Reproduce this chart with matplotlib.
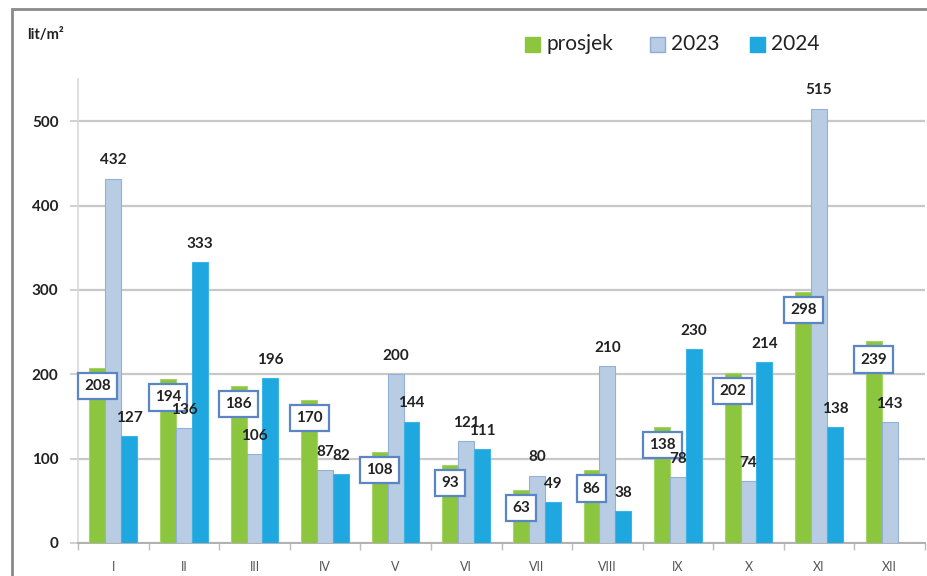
import matplotlib
matplotlib.use("Agg")
import matplotlib.pyplot as plt
from matplotlib.patches import Rectangle
import numpy as np

months = ["I", "II", "III", "IV", "V", "VI", "VII", "VIII", "IX", "X", "XI", "XII"]
prosjek = [208, 194, 186, 170, 108, 93, 63, 86, 138, 202, 298, 239]
y2023 = [432, 136, 106, 87, 200, 121, 80, 210, 78, 74, 515, 143]
y2024 = [127, 333, 196, 82, 144, 111, 49, 38, 230, 214, 138, None]
series_names = ["prosjek", "2023", "2024"]
yticks = [0, 100, 200, 300, 400, 500]
unit_label = "lit/m²"

c_green = "#8cc63f"
c_light = "#b8cce4"
c_blue = "#1fa7df"

plt.rcParams['font.family'] = ['Lato', 'DejaVu Sans']

W, H = 927, 576
fig = plt.figure(figsize=(W / 100, H / 100), dpi=100)

def fx(px):
    return px / W

def fy(py):
    return 1 - py / H

ax_l, ax_r, ax_t, ax_b = 78, 925, 79, 543
ax = fig.add_axes([fx(ax_l), fy(ax_b), fx(ax_r - ax_l), (ax_b - ax_t) / H])

n = len(months)
x = np.arange(n)
bw = 0.225

ax.bar(x - bw, prosjek, width=bw, color=c_green, edgecolor="#a5d56a", linewidth=0.8, zorder=3)
ax.bar(x, y2023, width=bw, color=c_light, edgecolor="#92b0d8", linewidth=0.8, zorder=3)
x24 = [xi + bw for xi, v in zip(x, y2024) if v is not None]
v24 = [v for v in y2024 if v is not None]
ax.bar(x24, v24, width=bw, color=c_blue, edgecolor="#3cb4e6", linewidth=0.8, zorder=3)

lab_kw = dict(ha="center", va="center", fontsize=11, fontweight="bold", color="#222222", zorder=7)
for xi, v in zip(x, y2023):
    ax.annotate(str(v), (xi, v), xytext=(0, 13), textcoords="offset points", **lab_kw)
for xi, v in zip(x24, v24):
    ax.annotate(str(v), (xi, v), xytext=(0, 13), textcoords="offset points", **lab_kw)
for xi, v in zip(x, prosjek):
    ax.text(xi - bw, v - 21.5, str(v), ha="center", va="center", fontsize=11,
            fontweight="bold", color="#222222", zorder=6,
            bbox=dict(boxstyle="square,pad=0.4", fc="white", ec="#5a86c5", lw=1.6))

ax.set_xlim(-0.5, n - 0.5)
ax.set_ylim(0, 550)
ax.set_yticks(yticks)
ax.set_yticklabels([str(t) for t in yticks], fontsize=11, fontweight="bold", color="#222222")
ax.yaxis.grid(True, color="#c8c8c8", linewidth=1.6, zorder=0)
ax.set_axisbelow(True)
ax.tick_params(axis="y", length=6, width=1.2, color="#c8c8c8", pad=8)

ax.set_xticks(x)
ax.set_xticklabels(months, fontsize=9, color="#555555")
ax.set_xticks(np.arange(n + 1) - 0.5, minor=True)
ax.tick_params(axis="x", which="major", length=0, pad=13)
ax.tick_params(axis="x", which="minor", length=5, width=1.0, color="#bbbbbb", direction="out")

for s in ["top", "right"]:
    ax.spines[s].set_visible(False)
ax.spines["left"].set_color("#d9d9d9")
ax.spines["left"].set_linewidth(1.2)
ax.spines["bottom"].set_color("#b0b0b0")
ax.spines["bottom"].set_linewidth(1.4)

# unit label
fig.text(fx(27), fy(35), unit_label, fontsize=10.5, fontweight="bold", color="#222222",
         ha="left", va="center")

# legend (manual)
leg_x = [525, 650, 750]
leg_colors = [c_green, c_light, c_blue]
leg_edges = ["#8cc63f", "#8eaad6", "#1fa7df"]
for lx, name, col, ec in zip(leg_x, series_names, leg_colors, leg_edges):
    fig.patches.append(Rectangle((fx(lx), fy(52)), fx(15), 15 / H, transform=fig.transFigure,
                                 facecolor=col, edgecolor=ec, linewidth=1.0))
    fig.text(fx(lx + 21), fy(44), name, fontsize=15, color="#222222", ha="left", va="center")

# outer frame (cropped on right/bottom)
fig.patches.append(Rectangle((fx(12), fy(600)), fx(940), (600 - 9) / H, transform=fig.transFigure,
                             facecolor="none", edgecolor="#8a8a8a", linewidth=2.0, zorder=10))

fig.savefig("out.png", dpi=100)
